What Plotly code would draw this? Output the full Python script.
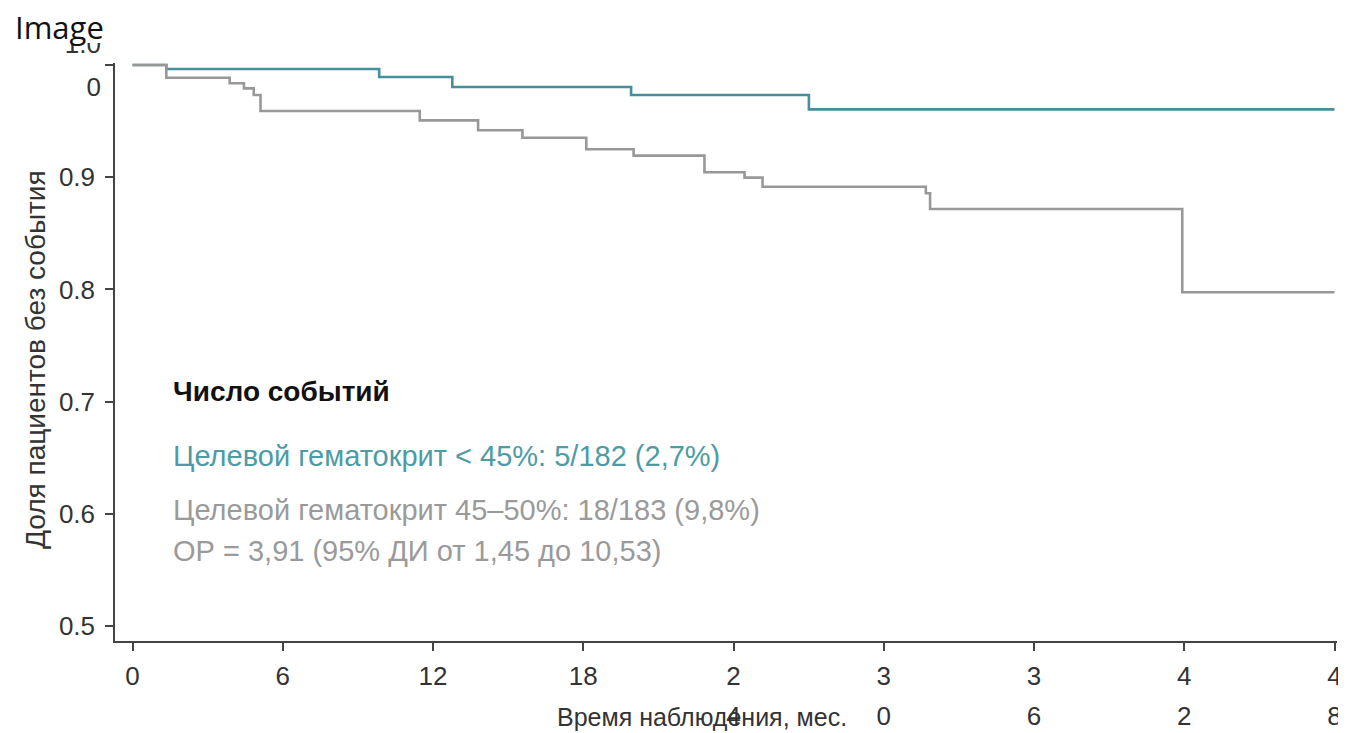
import plotly.graph_objects as go

# ---- data ----
months_teal = [0, 1.35, 9.85, 12.77, 19.91, 27.01, 48.0]
surv_teal = [1.0, 0.9964, 0.9893, 0.9804, 0.9733, 0.9605, 0.9605]

months_gray = [0, 1.35, 3.88, 4.45, 4.84, 5.11, 11.47, 13.8, 15.57, 18.12,
               20.01, 22.84, 24.44, 25.16, 31.68, 31.85, 41.92, 48.0]
surv_gray = [1.0, 0.9887, 0.9837, 0.9792, 0.9733, 0.959, 0.9507, 0.9418, 0.9352, 0.9249,
             0.9192, 0.9044, 0.8996, 0.8915, 0.8857, 0.8717, 0.7974, 0.7974]

x_tickvals = [0, 6, 12, 18, 24, 30, 36, 42, 48]
x_ticktext_row1 = ["0", "6", "12", "18", "2", "3", "3", "4", "4"]
x_ticktext_row2 = ["", "", "", "", "4", "0", "6", "2", "8"]

y_tickvals = [0.5, 0.6, 0.7, 0.8, 0.9, 1.0]
y_ticktext = ["0.5", "0.6", "0.7", "0.8", "0.9", ""]
y_top_val = [1.0]
y_top_upper = ["1.0"]
y_top_lower = ["0"]

title_text = "Image"
x_title = "Время наблюдения, мес."
y_title = "Доля пациентов без события"
legend_header = "Число событий"
legend_teal = "Целевой гематокрит < 45%: 5/182 (2,7%)"
legend_gray = "Целевой гематокрит 45–50%: 18/183 (9,8%)"
legend_hr = "ОР = 3,91 (95% ДИ от 1,45 до 10,53)"

TEAL = "#448f99"
GRAY = "#989898"
AXIS = "#444444"
TICKFONT = dict(family="Liberation Sans", size=26, color="#333333")

X_RANGE = [-0.7, 48.1]
Y_RANGE = [0.4866, 1.0018]

W, H = 1338, 725  # page body adds an 8px margin

fig = go.Figure()
fig.add_trace(go.Scatter(x=months_teal, y=surv_teal, mode="lines", line_shape="hv",
                         line=dict(color=TEAL, width=2.6), showlegend=False, hoverinfo="skip"))
fig.add_trace(go.Scatter(x=months_gray, y=surv_gray, mode="lines", line_shape="hv",
                         line=dict(color=GRAY, width=2.6), showlegend=False, hoverinfo="skip"))
# empty traces so the overlaid label axes get drawn
for xa, ya in (("x2", "y"), ("x", "y2"), ("x", "y3")):
    fig.add_trace(go.Scatter(x=[], y=[], xaxis=xa, yaxis=ya, mode="lines",
                             showlegend=False, hoverinfo="skip"))

common = dict(showgrid=False, zeroline=False, automargin=False, fixedrange=True)

fig.update_layout(
    width=W, height=H,
    margin=dict(l=107, r=9, t=55, b=92),
    paper_bgcolor="white", plot_bgcolor="white",
    title=dict(text=title_text, x=7 / W, xref="container", xanchor="left",
               y=1 - 20 / H, yref="container", yanchor="middle",
               font=dict(family="Open Sans", size=31, color="#111111")),
    xaxis=dict(range=X_RANGE, tickvals=x_tickvals, ticktext=x_ticktext_row1,
               ticks="outside", ticklen=8, tickwidth=1.5, tickcolor=AXIS,
               showline=True, linecolor=AXIS, linewidth=1.5,
               ticklabelstandoff=3, tickfont=TICKFONT, **common),
    xaxis2=dict(range=X_RANGE, overlaying="x", anchor="y", side="bottom",
                tickvals=x_tickvals, ticktext=x_ticktext_row2, ticks="",
                showline=False, ticklabelstandoff=57, tickfont=TICKFONT, **common),
    yaxis=dict(range=Y_RANGE, tickvals=y_tickvals, ticktext=y_ticktext,
               ticks="outside", ticklen=8, tickwidth=1.5, tickcolor=AXIS,
               showline=True, linecolor=AXIS, linewidth=1.5,
               ticklabelstandoff=5, tickfont=TICKFONT, **common),
    yaxis2=dict(range=Y_RANGE, overlaying="y", anchor="x", side="left",
                tickvals=y_top_val, ticktext=y_top_lower, ticks="",
                showline=False, ticklabelstandoff=13, ticklabelshift=22,
                tickfont=TICKFONT, **common),
    yaxis3=dict(range=Y_RANGE, overlaying="y", anchor="x", side="left",
                tickvals=y_top_val, ticktext=y_top_upper, ticks="",
                showline=False, ticklabelstandoff=13, ticklabelshift=-21,
                tickfont=TICKFONT, **common),
)

# white band at the very top (the clipped header area)
fig.add_shape(type="rect", xref="paper", yref="paper", x0=-0.2, x1=1.1,
              y0=(641 - 43) / 578, y1=1.25, fillcolor="white",
              line=dict(width=0), layer="above")

TXT = "Liberation Sans"
ann = [
    dict(text=legend_header, y=(641 - 392) / 578, font=dict(family=TXT, size=28, color="#111111", weight="bold")),
    dict(text=legend_teal, y=(641 - 456) / 578, font=dict(family=TXT, size=29, color="#4d9ba5")),
    dict(text=legend_gray, y=(641 - 510) / 578, font=dict(family=TXT, size=29, color="#9a9a9a")),
    dict(text=legend_hr, y=(641 - 551) / 578, font=dict(family=TXT, size=29, color="#9a9a9a")),
]
for a in ann:
    fig.add_annotation(x=(171 - 115) / 1222, xref="paper", yref="paper",
                       xanchor="left", yanchor="middle", showarrow=False, **a)

fig.add_annotation(text=x_title, x=(702 - 115) / 1222, y=(641 - 717) / 578,
                   xref="paper", yref="paper", xanchor="center", yanchor="middle",
                   showarrow=False, font=dict(family=TXT, size=25, color="#333333"))
fig.add_annotation(text=y_title, x=(35 - 115) / 1222, y=(641 - 360) / 578,
                   xref="paper", yref="paper", xanchor="center", yanchor="middle",
                   textangle=-90, showarrow=False,
                   font=dict(family=TXT, size=28, color="#333333"))

fig.write_html("out.html")
